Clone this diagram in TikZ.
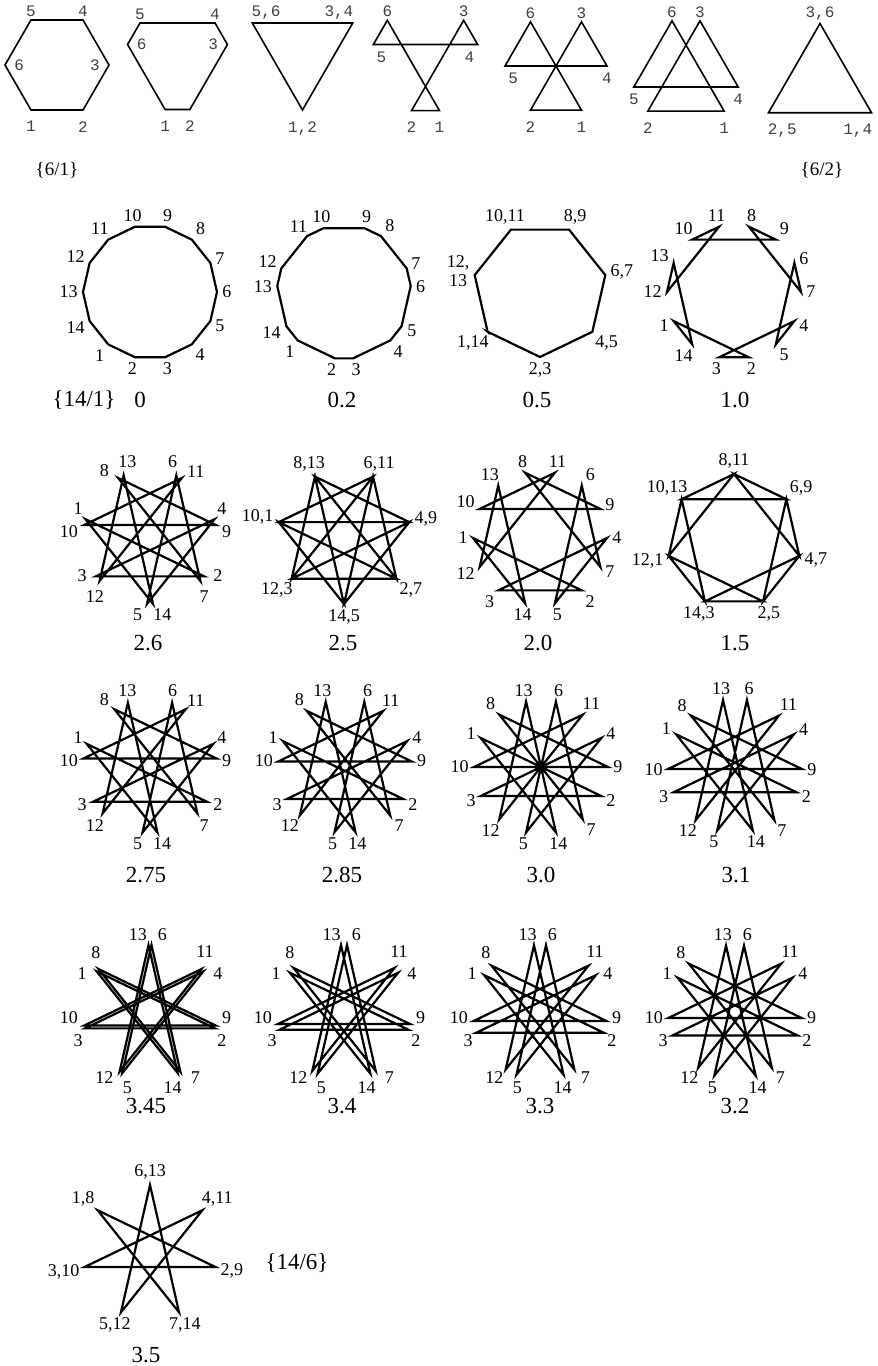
\documentclass[tikz,border=0pt]{standalone}
\usepackage{fontspec}
\setmainfont{Liberation Serif}
\newfontfamily\courfont{Liberation Mono}
\usepackage{tikz}
\usetikzlibrary{calc,positioning}
\tikzset{
  starline/.style={line width=1.1pt},
  hexline/.style={line width=0.8pt},
  vlab/.style={font=\fontsize{9}{9.5}\selectfont,inner sep=1pt,align=center},
  hlab/.style={font=\courfont\fontsize{8}{9}\selectfont,text=black!75,inner sep=1.5pt},
  tlab/.style={font=\fontsize{11.5}{12}\selectfont,inner sep=0pt},
  slab/.style={font=\fontsize{9.5}{10}\selectfont,inner sep=0pt},
}
\newcommand{\starR}{67}
% 14 points, even ones turn one way and odd ones the other, by t steps
\newcommand{\starfig}[4]{%
  \coordinate (#1c) at (#2,-#3);
  \foreach \k in {1,...,14}{
    \pgfmathsetmacro\va{-90+(\k+ifthenelse(mod(\k,2)==0,1,-1)*#4-2.5)*360/14}
    \coordinate (#1-\k) at ($(#1c)+(\va:\starR)$);
  }
  \draw[starline] (#1-1) \foreach \k in {2,...,14}{-- (#1-\k)} -- cycle;
}
\newcommand{\starlabels}[2]{%
  \pgfmathsetmacro\dd{2*#2-2*floor(#2)-1}
  \pgfmathsetmacro\push{ifthenelse(\dd<0,-1,1)*max(0,(18-abs(\dd)*360/14)/2)}
  \pgfmathsetmacro\lr{\starR+3}
  \foreach \k in {1,...,14}{
    \pgfmathsetmacro\sg{ifthenelse(mod(\k,2)==0,1,-1)}
    \pgfmathsetmacro\la{-90+(\k+\sg*#2-2.5)*360/14+\sg*\push}
    \pgfmathsetmacro\an{mod(\la+900,360)}
    \node[vlab,anchor=\an] (#1l\k) at ($(#1c)+(\la:\lr)$) {\k};
  }
}
\newcommand{\pairlabels}[3]{%
  \pgfmathsetmacro\lr{\starR+3}
  \foreach \k/\txt in {#3}{
    \pgfmathsetmacro\sg{ifthenelse(mod(\k,2)==0,1,-1)}
    \pgfmathsetmacro\la{-90+(\k+\sg*#2-2.5)*360/14}
    \pgfmathsetmacro\an{mod(\la+900,360)}
    \node[vlab,anchor=\an] (#1l\k) at ($(#1c)+(\la:\lr)$) {\txt};
  }
}
\newcommand{\hexfig}[5]{%
  \coordinate (#1c) at (#2,-#3);
  \foreach \k in {1,...,6}{
    \pgfmathsetmacro\va{(\k-3)*60+ifthenelse(mod(\k,2)==0,-1,1)*#5*60}
    \coordinate (#1-\k) at ($(#1c)+(\va:#4)$);
  }
  \draw[hexline] (#1-1) \foreach \k in {2,...,6}{-- (#1-\k)} -- cycle;
}
\newcommand{\hexlabels}[2]{%
  \foreach \k/\pos/\d/\txt in {#2}
    \node[hlab,\pos=\d of #1-\k] (#1l\k) {\txt};
}

\begin{document}
\begin{tikzpicture}[x=0.5pt,y=0.5pt]
  \useasboundingbox (0,0) rectangle (878,-1366);

  \hexfig{h1}{57}{65}{52}{0}
  \hexfig{h2}{177.5}{59}{52}{0.27}
  \hexfig{h3}{302.5}{52}{58}{0.5}
  \hexfig{h4}{425.5}{58.5}{54}{0.75}
  \hexfig{h5}{556}{66}{51}{1}
  \hexfig{h6}{686}{73}{54}{1.25}
  \hexfig{h7}{820}{83}{59.5}{1.5}
  \hexlabels{h1}{5/above/0pt/5, 4/above/0pt/4, 6/right/3pt/6, 3/left/3pt/3, 1/below/4pt/1, 2/below/4pt/2}
  \hexlabels{h2}{5/above/0pt/5, 4/above/0pt/4, 6/right/3pt/6, 3/left/3pt/3, 1/below/4pt/1, 2/below/4pt/2}
  \hexlabels{h3}{5/above right/0pt and -2pt/{5,6}, 3/above left/0pt and -2pt/{3,4}, 1/below/4pt/{1,2}}
  \hexlabels{h4}{6/above/0pt/6, 3/above/0pt/3, 5/below right/2pt and 0pt/5, 4/below left/2pt and 0pt/4, 2/below/4pt/2, 1/below/4pt/1}
  \hexlabels{h5}{6/above/0pt/6, 3/above/0pt/3, 5/below right/2pt and 0pt/5, 4/below/2pt/4, 2/below/4pt/2, 1/below/4pt/1}
  \hexlabels{h6}{6/above/0pt/6, 3/above/0pt/3, 5/below/2pt/5, 4/below/2pt/4, 2/below/4pt/2, 1/below/4pt/1}
  \hexlabels{h7}{3/above/0pt/{3,6}, 2/below right/4pt and -2pt/{2,5}, 1/below left/4pt and -2pt/{1,4}}
  \node[slab] (s61) at (57,-170) {\{6/1\}};
  \node[slab] (s62) at (822,-170) {\{6/2\}};

  \starfig{t0}{150}{292}{0}      \starlabels{t0}{0}
  \starfig{t02}{344}{292}{0.2}   \starlabels{t02}{0.2}
  \starfig{t05}{540}{290}{0.5}
  \pairlabels{t05}{0.5}{2/{2,3}, 4/{4,5}, 6/{6,7}, 8/{8,9}, 10/{10,11}, 12/{12,\\13}, 14/{1,14}}
  \starfig{t10}{734}{292}{1.0}   \starlabels{t10}{1.0}
  \node[tlab] (n141) at (84,-400) {\{14/1\}};
  \node[tlab] (n0) at (140,-400) {0};
  \node[tlab] (n02) at (342,-400) {0.2};
  \node[tlab] (n05) at (537,-400) {0.5};
  \node[tlab] (n10) at (735,-400) {1.0};

  \starfig{t26}{150}{537}{2.6}   \starlabels{t26}{2.6}
  \starfig{t25}{344}{537}{2.5}
  \pairlabels{t25}{2.5}{8/{8,13}, 6/{6,11}, 4/{4,9}, 2/{2,7}, 14/{14,5}, 12/{12,3}, 10/{10,1}}
  \starfig{t20}{540}{538}{2.0}   \starlabels{t20}{2.0}
  \starfig{t15}{734}{541}{1.5}
  \pairlabels{t15}{1.5}{8/{8,11}, 6/{6,9}, 4/{4,7}, 2/{2,5}, 14/{14,3}, 12/{12,1}, 10/{10,13}}
  \node[tlab] (n26) at (148,-643) {2.6};
  \node[tlab] (n25) at (343,-643) {2.5};
  \node[tlab] (n20) at (538,-643) {2.0};
  \node[tlab] (n15) at (735,-643) {1.5};

  \starfig{t275}{150}{766}{2.75} \starlabels{t275}{2.75}
  \starfig{t285}{345}{766}{2.85} \starlabels{t285}{2.85}
  \starfig{t30}{541}{767}{3.0}   \starlabels{t30}{3.0}
  \starfig{t31}{735}{766}{3.1}   \starlabels{t31}{3.1}
  \node[tlab] (n275) at (146,-875) {2.75};
  \node[tlab] (n285) at (342,-875) {2.85};
  \node[tlab] (n30) at (541,-875) {3.0};
  \node[tlab] (n31) at (736,-875) {3.1};

  \starfig{t345}{150}{1012}{3.45} \starlabels{t345}{3.45}
  \starfig{t34}{344}{1012}{3.4}   \starlabels{t34}{3.4}
  \starfig{t33}{540}{1012}{3.3}   \starlabels{t33}{3.3}
  \starfig{t32}{735}{1012}{3.2}   \starlabels{t32}{3.2}
  \node[tlab] (n345) at (146,-1106) {3.45};
  \node[tlab] (n34) at (342,-1106) {3.4};
  \node[tlab] (n33) at (540,-1106) {3.3};
  \node[tlab] (n32) at (735,-1106) {3.2};

  \starfig{t35}{150}{1252}{3.5}
  \pairlabels{t35}{3.5}{6/{6,13}, 4/{4,11}, 2/{2,9}, 14/{7,14}, 12/{5,12}, 10/{3,10}, 8/{1,8}}
  \node[tlab] (n35) at (146,-1355) {3.5};
  \node[tlab] (n146) at (297,-1263) {\{14/6\}};
\end{tikzpicture}
\end{document}
